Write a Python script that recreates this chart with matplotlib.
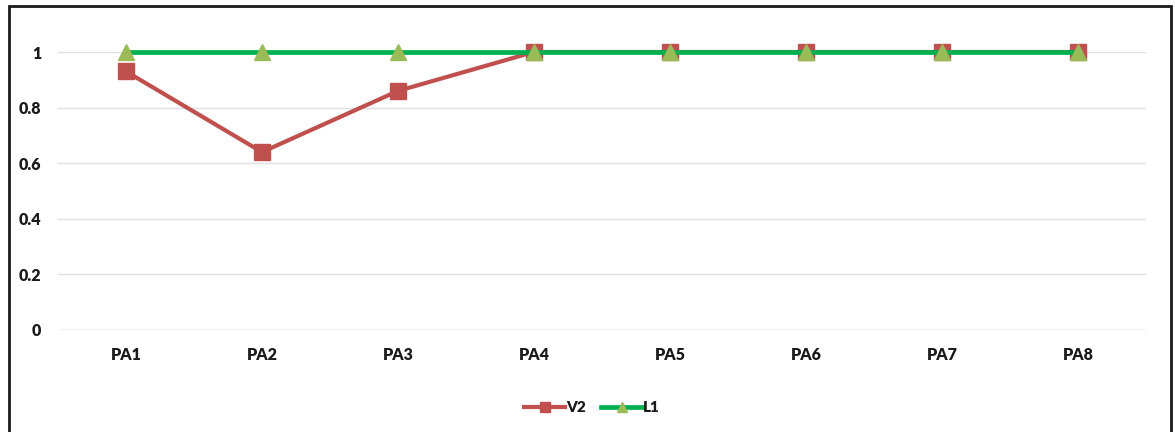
import matplotlib
matplotlib.use("Agg")
import matplotlib.pyplot as plt
from matplotlib.patches import Rectangle

categories = ["PA1", "PA2", "PA3", "PA4", "PA5", "PA6", "PA7", "PA8"]
v2 = [0.93, 0.64, 0.86, 1.0, 1.0, 1.0, 1.0, 1.0]
l1 = [1.0, 1.0, 1.0, 1.0, 1.0, 1.0, 1.0, 1.0]
y_ticks = [0, 0.2, 0.4, 0.6, 0.8, 1]
y_labels = ["0", "0.2", "0.4", "0.6", "0.8", "1"]

plt.rcParams["font.family"] = ["Lato", "DejaVu Sans"]
plt.rcParams["font.weight"] = "bold"

W, H = 1175, 432
fig = plt.figure(figsize=(W / 100, H / 100), dpi=100)
ax = fig.add_axes([58 / W, (H - 330) / H, (1146 - 58) / W, (330 - 52) / H])

x = list(range(len(categories)))
ax.plot(x, v2, color="#C0504D", lw=3.0, marker="s", ms=11,
        mfc="#C0504D", mec="#C0504D", label="V2", clip_on=False, zorder=3)
ax.plot(x, l1, color="#00B050", lw=3.4, marker="^", ms=12,
        mfc="#9BBB59", mec="#9BBB59", label="L1", clip_on=False, zorder=4)

ax.set_xlim(-0.5, len(categories) - 0.5)
ax.set_ylim(0, 1)
ax.set_xticks(x)
ax.set_xticklabels(categories, fontsize=11.5, fontweight="heavy", color="#1a1a1a")
ax.set_yticks(y_ticks)
ax.set_yticklabels(y_labels, fontsize=11.5, fontweight="heavy", color="#1a1a1a")
ax.tick_params(axis="both", length=0)
ax.tick_params(axis="x", pad=12)
ax.tick_params(axis="y", pad=12)
ax.grid(axis="y", color="#E0E0E0", lw=1)
ax.set_axisbelow(True)
for s in ax.spines.values():
    s.set_visible(False)
ax.axhline(0, color="#D9D9D9", lw=1, zorder=1)

leg = fig.legend(loc="center", bbox_to_anchor=(592 / W, 1 - 408 / H), ncol=2,
                 frameon=False, prop={"size": 11, "weight": "heavy"},
                 handlelength=2.7, handletextpad=0.05,
                 columnspacing=1.0, markerscale=0.65)
for t in leg.get_texts():
    t.set_color("#1a1a1a")

# chart border
fig.patches.append(Rectangle((9 / W, -0.05), (1171 - 9) / W, 1.05 - 6 / H,
                             transform=fig.transFigure, fill=False,
                             edgecolor="#1a1a1a", lw=2))

fig.savefig("out.png", dpi=100)
